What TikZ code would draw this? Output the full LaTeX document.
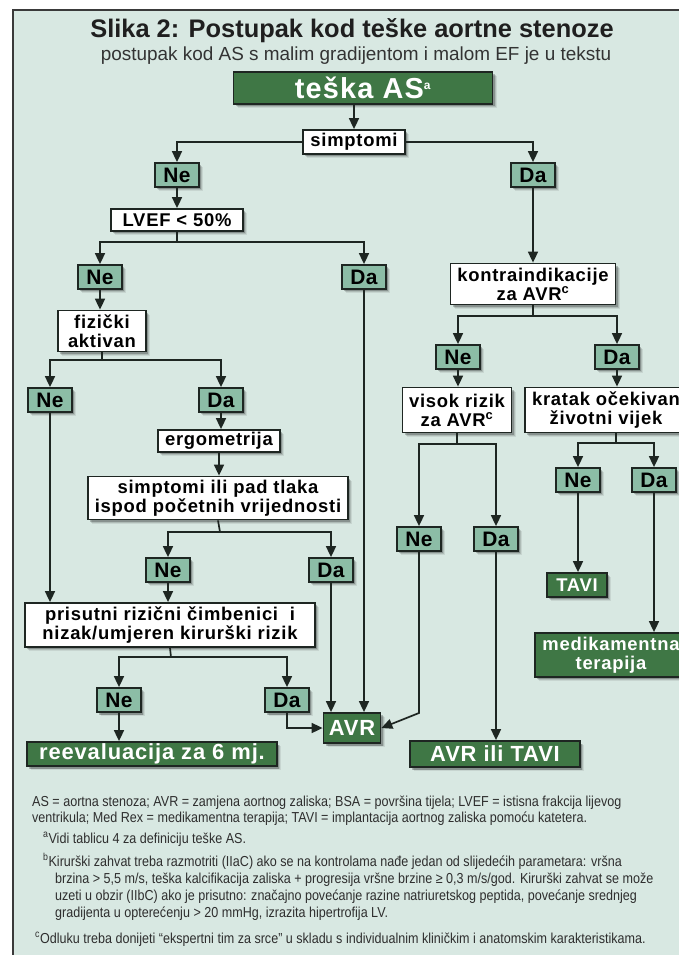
\documentclass[tikz,border=0pt]{standalone}
\usepackage{fontspec}
\setmainfont{Liberation Sans}
\newfontfamily\boxfont[LetterSpace=4]{Liberation Sans}
\newfontfamily\ynfont[LetterSpace=2]{Liberation Sans}
\newfontfamily\notefont[FakeStretch=0.87]{Liberation Sans}
\usetikzlibrary{arrows.meta,shadows}

\definecolor{bgmint}{HTML}{D8E8E2}
\definecolor{darkgreen}{HTML}{3F7745}
\definecolor{yesno}{HTML}{8CBDA6}
\definecolor{edge}{HTML}{1E2622}
\definecolor{frameline}{HTML}{3A3A3A}
\definecolor{notegray}{HTML}{2E2E2E}

\tikzset{
  box base/.style={draw=edge, line width=1.8pt, inner sep=0pt, align=center,
    drop shadow={shadow xshift=4.5pt, shadow yshift=-4.5pt, opacity=0.08, fill=black},
    drop shadow={shadow xshift=3.5pt, shadow yshift=-3.5pt, opacity=0.12, fill=black},
    drop shadow={shadow xshift=2.5pt, shadow yshift=-2.5pt, opacity=0.22, fill=black}},
  wbox/.style={box base, fill=white, text=black,
    font=\boxfont\bfseries\fontsize{18.5}{19}\selectfont},
  yn/.style={box base, fill=yesno, text=black, minimum width=44bp, minimum height=24bp,
    font=\ynfont\bfseries\fontsize{21}{22}\selectfont},
  gbox/.style={box base, fill=darkgreen, text=white,
    font=\boxfont\bfseries\fontsize{22}{23}\selectfont},
  conn/.style={draw=edge, line width=1.7pt},
  arr/.style={conn, -{Triangle[width=10pt,length=11pt]}},
  note/.style={anchor=base west, inner sep=0pt, text=notegray,
    font=\notefont\fontsize{14.5}{16}\selectfont},
}

\begin{document}
\begin{tikzpicture}[x=1bp, y=-1bp]
\useasboundingbox (0,0) rectangle (679,955);

% page and frame (drawn past the page edges, which crop them)
\fill[white] (-10,-10) rectangle (700,970);
\fill[bgmint] (13,10) rectangle (700,970);
\draw[frameline, line width=3pt] (13,970) -- (13,10) -- (700,10);

% headings
\node[font=\bfseries\fontsize{25.5}{30}\selectfont, text=black!88] (title) at (352,31)
  {Slika 2: Postupak kod teške aortne stenoze};
\node[font=\fontsize{19}{22}\selectfont, text=black!80] (subtitle) at (356,56)
  {postupak kod AS s malim gradijentom i malom EF je u tekstu};

% decision nodes
\node[gbox, minimum width=259bp, minimum height=32bp,
      font=\boxfont\bfseries\fontsize{29}{30}\selectfont] (tas) at (363,88)
  {teška AS\textsuperscript{\fontsize{12}{12}\selectfont a}};
\node[wbox, minimum width=102bp, minimum height=24bp] (simp) at (354,142) {simptomi};
\node[yn] (ne1) at (177,175) {Ne};
\node[yn] (da1) at (533,175) {Da};
\node[wbox, minimum width=132bp, minimum height=22bp] (lvef) at (177,220) {LVEF < 50\%};
\node[yn] (ne2) at (100,277) {Ne};
\node[yn] (da2) at (364,277) {Da};
\node[wbox, minimum width=165bp, minimum height=41bp] (kontra) at (533,284)
  {kontraindikacije\\za AVR\textsuperscript{c}};
\node[wbox, minimum width=88bp, minimum height=41bp] (fiz) at (102,331)
  {fizički\\aktivan};
\node[yn] (ne3) at (458,357) {Ne};
\node[yn] (da3) at (617,357) {Da};
\node[yn] (nefa) at (50,400) {Ne};
\node[yn] (dafa) at (221,400) {Da};
\node[wbox, minimum width=109bp, minimum height=45bp] (visok) at (457,410)
  {visok rizik\\za AVR\textsuperscript{c}};
\node[wbox, minimum width=162bp, minimum height=45bp] (kratak) at (606,410)
  {kratak očekivan\\životni vijek};
\node[wbox, minimum width=122bp, minimum height=22bp] (ergo) at (219,441) {ergometrija};
\node[wbox, minimum width=260bp, minimum height=43bp] (simpad) at (218,498)
  {simptomi ili pad tlaka\\ispod početnih vrijednosti};
\node[yn] (ne5) at (578,480) {Ne};
\node[yn] (da5) at (654,480) {Da};
\node[yn] (ne4) at (419,539) {Ne};
\node[yn] (da4) at (496,539) {Da};
\node[yn] (ne6) at (168,570) {Ne};
\node[yn] (da6) at (331,570) {Da};
\node[gbox, minimum width=60bp, minimum height=24bp,
      font=\boxfont\bfseries\fontsize{18.5}{19.5}\selectfont] (tavi) at (577,585) {TAVI};
\node[wbox, minimum width=290bp, minimum height=44bp] (pris) at (170,625)
  {prisutni rizični čimbenici\ \ i\\nizak/umjeren kirurški rizik};
\node[gbox, minimum width=152bp, minimum height=44bp,
      font=\boxfont\bfseries\fontsize{18.5}{19.5}\selectfont] (medi) at (611,655)
  {medikamentna\\terapija};
\node[yn] (ne7) at (119,700) {Ne};
\node[yn] (da7) at (287,700) {Da};
\node[gbox, minimum width=57bp, minimum height=30bp] (avr) at (352,728) {AVR};
\node[gbox, minimum width=250bp, minimum height=24bp] (reeval) at (152,754)
  {reevaluacija za 6 mj.};
\node[gbox, minimum width=170bp, minimum height=26bp] (avrtavi) at (495,754)
  {AVR ili TAVI};

% branch points
\coordinate (j1) at (177,242);
\coordinate (j2) at (533,316);
\coordinate (j3) at (102,360);
\coordinate (j5) at (457,444);
\coordinate (j6) at (616,443);
\coordinate (j4) at (220,532);
\coordinate (j7) at (171,657);
\coordinate (k4) at (419,713);

% connectors
\draw[arr] (simp.north |- tas.south) -- (simp.north);
\draw[arr] (simp.west) -| (ne1.north);
\draw[arr] (simp.east) -| (da1.north);
\draw[arr] (ne1.south) -- (lvef.north);
\draw[conn] (lvef.south) -- (j1);
\draw[arr] (j1) -| (ne2.north);
\draw[arr] (j1) -| (da2.north);
\draw[arr] (da1.south) -- (kontra.north);
\draw[conn] (kontra.south) -- (j2);
\draw[arr] (j2) -| (ne3.north);
\draw[arr] (j2) -| (da3.north);
\draw[arr] (ne2.south) -- (ne2.south |- fiz.north);
\draw[conn] (fiz.south) -- (j3);
\draw[arr] (j3) -| (nefa.north);
\draw[arr] (j3) -| (dafa.north);
\draw[arr] (ne3.south) -- (ne3.south |- visok.north);
\draw[arr] (da3.south) -- (da3.south |- kratak.north);
\draw[arr] (dafa.south) -- (dafa.south |- ergo.north);
\draw[arr] (ergo.south) -- (ergo.south |- simpad.north);
\draw[conn] (simpad.south) -- (j4);
\draw[arr] (j4) -| (ne6.north);
\draw[arr] (j4) -| (da6.north);
\draw[conn] (visok.south) -- (j5);
\draw[arr] (j5) -| (ne4.north);
\draw[arr] (j5) -| (da4.north);
\draw[conn] (kratak.south -| j6) -- (j6);
\draw[arr] (j6) -| (ne5.north);
\draw[arr] (j6) -| (da5.north);
\draw[arr] (ne5.south) -- (ne5.south |- tavi.north);
\draw[arr] (da5.south) -- (da5.south |- medi.north);
\draw[arr] (nefa.south) -- (nefa.south |- pris.north);
\draw[arr] (ne6.south) -- (ne6.south |- pris.north);
\draw[conn] (pris.south) -- (j7);
\draw[arr] (j7) -| (ne7.north);
\draw[arr] (j7) -| (da7.north);
\draw[arr] (ne7.south) -- (ne7.south |- reeval.north);
\draw[arr] (da7.south) |- (avr.west);
\draw[arr] (da6.south) -- (da6.south |- avr.north);
\draw[arr] (da2.south) -- (da2.south |- avr.north);
\draw[arr] (ne4.south) -- (k4) -- (avr.east);
\draw[arr] (da4.south) -- (da4.south |- avrtavi.north);

% footnotes
\node[note] (n1) at (32,806)
  {AS = aortna stenoza; AVR = zamjena aortnog zaliska; BSA = površina tijela; LVEF = istisna frakcija lijevog};
\node[note] (n2) at (32,822)
  {ventrikula; Med Rex = medikamentna terapija; TAVI = implantacija aortnog zaliska pomoću katetera.};
\node[note] (n3) at (43,843)
  {\textsuperscript{a}Vidi tablicu 4 za definiciju teške AS.};
\node[note] (n4) at (43,866)
  {\textsuperscript{b}Kirurški zahvat treba razmotriti (IIaC) ako se na kontrolama nađe jedan od slijedećih parametara: vršna};
\node[note] (n5) at (55,883)
  {brzina > 5,5 m/s, teška kalcifikacija zaliska + progresija vršne brzine ≥ 0,3 m/s/god. Kirurški zahvat se može};
\node[note] (n6) at (55,900)
  {uzeti u obzir (IIbC) ako je prisutno: značajno povećanje razine natriuretskog peptida, povećanje srednjeg};
\node[note] (n7) at (55,917)
  {gradijenta u opterećenju > 20 mmHg, izrazita hipertrofija LV.};
\node[note] (n8) at (35,943)
  {\textsuperscript{c}Odluku treba donijeti “ekspertni tim za srce” u skladu s individualnim kliničkim i anatomskim karakteristikama.};
\end{tikzpicture}
\end{document}
